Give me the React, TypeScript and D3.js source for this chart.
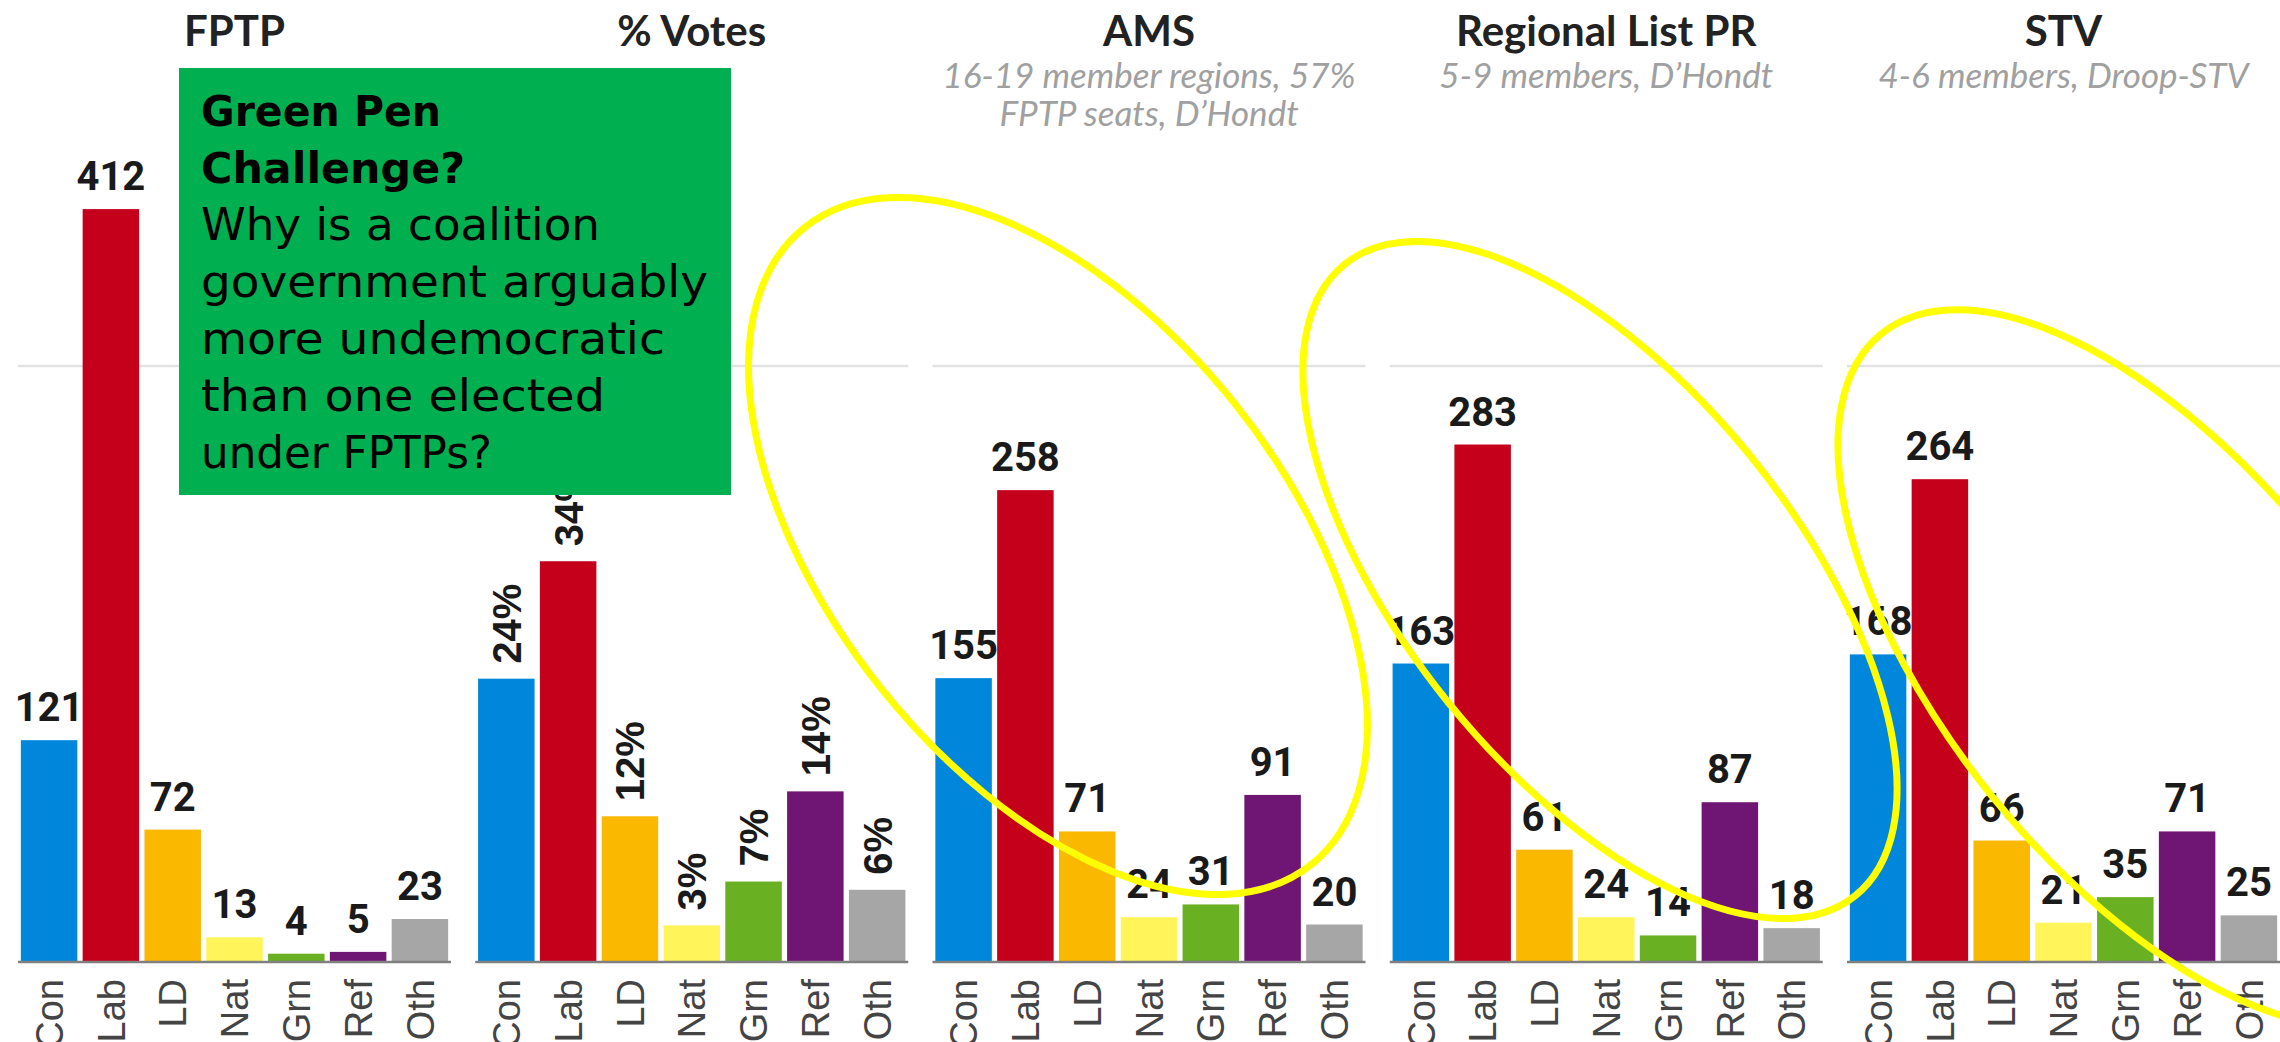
import React, { useEffect, useRef } from 'react';
import * as d3 from 'd3';

// parties + colours
const parties = ['Con', 'Lab', 'LD', 'Nat', 'Grn', 'Ref', 'Oth'];
const partyColours = ['#0087dc', '#c4001a', '#fbb800', '#fff55a', '#6ab023', '#6f1574', '#a6a6a6'];

// seats / votes per system
const fptpSeats = [121, 412, 72, 13, 4, 5, 23];
const voteShare = [23.8, 33.7, 12.2, 3.0, 6.7, 14.3, 6.0];
const voteLabels = ['24%', '34%', '12%', '3%', '7%', '14%', '6%'];
const amsSeats = [155, 258, 71, 24, 31, 91, 20];
const listSeats = [163, 283, 61, 24, 14, 87, 18];
const stvSeats = [168, 264, 66, 21, 35, 71, 25];

const panelTitles = ['FPTP', '% Votes', 'AMS', 'Regional List PR', 'STV'];
const panelSubtitles = [
    [],
    [],
    ['16-19 member regions, 57%', 'FPTP seats, D\u2019Hondt'],
    ['5-9 members, D\u2019Hondt'],
    ['4-6 members, Droop-STV'],
];

const TOTAL_SEATS = 650;
const MAJORITY = 326;

const noteLines = [
    { text: 'Green Pen', bold: true },
    { text: 'Challenge?', bold: true },
    { text: 'Why is a coalition', bold: false },
    { text: 'government arguably', bold: false },
    { text: 'more undemocratic', bold: false },
    { text: 'than one elected', bold: false },
    { text: 'under FPTPs?', bold: false },
];

const App = () => {
    const ref = useRef<SVGSVGElement>(null);

    const width = 2280;
    const height = 1042;
    // chart
    const baseline_y = 961;
    const px_per_seat = 1.825;
    const panel_x0 = 18;
    const panel_step = 457.25;
    const panel_width = 433;
    // text
    const title_y = 46;
    const sub_y0 = 88;
    const sub_line = 38;
    // note box
    const note_x = 179;
    const note_y = 68;
    const note_w = 552;
    const note_h = 427;
    const note_text_x = 201;
    const note_text_y0 = 126;
    const note_line = 57;
    const note_widths = [240, 264, 399, 507, 464, 404, 291];

    useEffect(() => {
        const panels = [
            { values: fptpSeats, labels: fptpSeats.map(String), rotated: false },
            { values: voteShare.map(v => v / 100 * TOTAL_SEATS), labels: voteLabels, rotated: true },
            { values: amsSeats, labels: amsSeats.map(String), rotated: false },
            { values: listSeats, labels: listSeats.map(String), rotated: false },
            { values: stvSeats, labels: stvSeats.map(String), rotated: false },
        ];

        const svg = d3.select(ref.current);
        svg.selectAll('*').remove();
        svg.attr('width', width).attr('height', height);

        svg.append('rect')
            .attr('width', width)
            .attr('height', height)
            .attr('fill', '#ffffff');

        const yScale = d3.scaleLinear()
            .domain([0, TOTAL_SEATS])
            .range([baseline_y, baseline_y - TOTAL_SEATS * px_per_seat]);

        const colour = d3.scaleOrdinal<string, string>().domain(parties).range(partyColours);

        panels.forEach((p, i) => {
            const x0 = panel_x0 + i * panel_step;
            const g = svg.append('g').attr('transform', `translate(${x0},0)`);

            const xScale = d3.scaleBand()
                .domain(parties)
                .range([0, panel_width])
                .paddingInner(0.086)
                .paddingOuter(0.046);

            const rows = parties.map((party, j) => ({ party, value: p.values[j], label: p.labels[j] }));

            // majority gridline
            g.append('line')
                .attr('x1', 0)
                .attr('x2', panel_width)
                .attr('y1', yScale(MAJORITY))
                .attr('y2', yScale(MAJORITY))
                .attr('stroke', '#e2e2e2')
                .attr('stroke-width', 2.5);

            // bars
            g.selectAll('.bar')
                .data(rows)
                .enter().append('rect')
                .attr('class', 'bar')
                .attr('x', d => xScale(d.party)!)
                .attr('y', d => yScale(d.value))
                .attr('width', xScale.bandwidth())
                .attr('height', d => yScale(0) - yScale(d.value))
                .attr('fill', d => colour(d.party));

            // baseline
            g.append('line')
                .attr('x1', 0)
                .attr('x2', panel_width)
                .attr('y1', yScale(0) + 1)
                .attr('y2', yScale(0) + 1)
                .attr('stroke', '#808080')
                .attr('stroke-width', 2.5);

            // value labels
            if (p.rotated) {
                g.selectAll('.value')
                    .data(rows)
                    .enter().append('text')
                    .attr('class', 'value')
                    .attr('transform', d => `translate(${xScale(d.party)! + xScale.bandwidth() / 2},${yScale(d.value) - 15}) rotate(-90)`)
                    .attr('dy', '0.36em')
                    .attr('text-anchor', 'start')
                    .style('font-family', '"Liberation Sans", Arial, sans-serif')
                    .style('font-weight', 'bold')
                    .style('font-size', '40px')
                    .attr('fill', '#1a1a1a')
                    .text(d => d.label);
            } else {
                g.selectAll('.value')
                    .data(rows)
                    .enter().append('text')
                    .attr('class', 'value')
                    .attr('x', d => xScale(d.party)! + xScale.bandwidth() / 2)
                    .attr('y', d => yScale(d.value) - 19)
                    .attr('text-anchor', 'middle')
                    .style('font-family', 'Roboto, sans-serif')
                    .style('font-weight', 'bold')
                    .style('font-size', '40px')
                    .attr('fill', '#1a1a1a')
                    .text(d => d.label);
            }

            // category labels (run off the bottom edge, as in the source)
            g.selectAll('.cat')
                .data(rows)
                .enter().append('text')
                .attr('class', 'cat')
                .attr('transform', d => `translate(${xScale(d.party)! + xScale.bandwidth() / 2},${yScale(0) + 18}) rotate(-90)`)
                .attr('dy', '0.36em')
                .attr('text-anchor', 'end')
                .style('font-family', '"Liberation Sans", Arial, sans-serif')
                .style('font-size', '38px')
                .attr('fill', '#444444')
                .text(d => d.party);

            // title
            g.append('text')
                .attr('x', panel_width / 2)
                .attr('y', title_y)
                .attr('text-anchor', 'middle')
                .style('font-family', 'Lato, sans-serif')
                .style('font-weight', 'bold')
                .style('font-size', '42px')
                .attr('fill', '#222222')
                .text(panelTitles[i]);

            panelSubtitles[i].forEach((line, k) => {
                g.append('text')
                    .attr('x', panel_width / 2)
                    .attr('y', sub_y0 + k * sub_line)
                    .attr('text-anchor', 'middle')
                    .style('font-family', 'Lato, sans-serif')
                    .style('font-style', 'italic')
                    .style('font-size', '35px')
                    .attr('fill', '#a0a0a0')
                    .text(line);
            });
        });

        // green pen box
        svg.append('rect')
            .attr('x', note_x)
            .attr('y', note_y)
            .attr('width', note_w)
            .attr('height', note_h)
            .attr('fill', '#00b050');

        svg.selectAll('.note')
            .data(noteLines)
            .enter().append('text')
            .attr('class', 'note')
            .attr('x', note_text_x)
            .attr('y', (d, k) => note_text_y0 + k * note_line)
            .attr('textLength', (d, k) => note_widths[k])
            .attr('lengthAdjust', 'spacingAndGlyphs')
            .style('font-family', '"DejaVu Sans", sans-serif')
            .style('font-weight', d => d.bold ? 'bold' : 'normal')
            .style('font-size', d => d.bold ? '42px' : '44px')
            .attr('fill', '#000000')
            .text(d => d.text);

        // yellow annotation loops
        const loops = [
            { cx: 1058, cy: 546, rx: 407, ry: 227, angle: 51.5 },
            { cx: 1600, cy: 580, rx: 406, ry: 195, angle: 51 },
            { cx: 2152, cy: 668, rx: 430, ry: 205, angle: 51 },
        ];
        svg.selectAll('.loop')
            .data(loops)
            .enter().append('ellipse')
            .attr('class', 'loop')
            .attr('cx', d => d.cx)
            .attr('cy', d => d.cy)
            .attr('rx', d => d.rx)
            .attr('ry', d => d.ry)
            .attr('transform', d => `rotate(${d.angle},${d.cx},${d.cy})`)
            .attr('fill', 'none')
            .attr('stroke', '#ffff00')
            .attr('stroke-width', 7);
    }, []);

    return <svg ref={ref} style={{ position: 'absolute', left: 0, top: 0, display: 'block' }}></svg>;
};

export default App;
